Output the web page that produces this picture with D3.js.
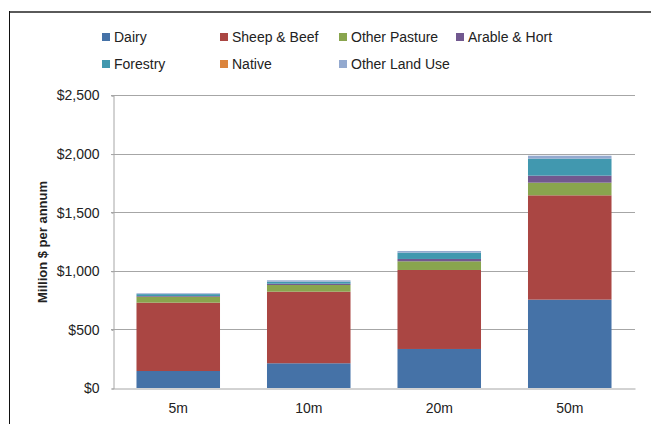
<!DOCTYPE html>
<html>
<head>
<meta charset="utf-8">
<script src="https://cdn.jsdelivr.net/npm/d3@7"></script>
<style>
  html, body { margin: 0; padding: 0; background: #fff; }
  svg { display: block; }
  text { font-family: "Liberation Sans", Arial, sans-serif; fill: #222; }
</style>
</head>
<body>
<svg id="chart" width="651" height="424"></svg>
<script>
// Distance bands
const categories = ["5m", "10m", "20m", "50m"];

// Land-use series, million $ per annum
const seriesNames = ["Dairy", "Sheep & Beef", "Other Pasture", "Arable & Hort", "Forestry", "Native", "Other Land Use"];
const dairy        = [145, 211, 333, 754];
const sheepBeef    = [583, 611, 674, 890];
const otherPasture = [51, 57, 74, 108];
const arableHort   = [6, 11, 20, 60];
const forestry     = [16, 17, 54, 145];
const native       = [0, 0, 0, 0];
const otherLandUse = [7, 12, 14, 25];

const yTicks = [0, 500, 1000, 1500, 2000, 2500];

const colors = ["#4572A7", "#AA4643", "#89A54E", "#71588F", "#4198AF", "#DB843D", "#93A9CF"];

const seriesValues = [dairy, sheepBeef, otherPasture, arableHort, forestry, native, otherLandUse];
const rows = categories.map((c, i) => {
  const r = { cat: c };
  seriesNames.forEach((s, k) => { r[s] = seriesValues[k][i]; });
  return r;
});

const svg = d3.select("#chart");
const margin = { left: 113, right: 16, top: 95, bottom: 36 };
const W = 651, H = 424;
const FONT = "'Liberation Sans', Arial, sans-serif";

// chart frame
svg.append("line").attr("x1", 9).attr("x2", W).attr("y1", 12).attr("y2", 12)
  .attr("stroke", "#5a5a5a").attr("stroke-width", 2);
svg.append("line").attr("x1", 9.5).attr("x2", 9.5).attr("y1", 11).attr("y2", H)
  .attr("stroke", "#111").attr("stroke-width", 1);

const x = d3.scaleBand().domain(categories).range([margin.left, W - margin.right]).paddingInner(0.36).paddingOuter(0.18);
const y = d3.scaleLinear().domain([0, 2500]).range([H - margin.bottom, margin.top]);

// gridlines
svg.append("g").selectAll("line").data(yTicks.slice(1)).join("line")
  .attr("x1", margin.left - 2).attr("x2", W - margin.right)
  .attr("y1", d => Math.round(y(d)) + 0.5).attr("y2", d => Math.round(y(d)) + 0.5)
  .attr("stroke", "#a6a6a6").attr("stroke-width", 1);

// y axis
const yAxis = d3.axisLeft(y).tickValues(yTicks).tickSize(2).tickPadding(12)
  .tickFormat(d => "$" + d3.format(",")(d));
const gy = svg.append("g").attr("transform", `translate(${margin.left + 0.5},0.5)`).call(yAxis);
gy.select(".domain").attr("stroke", "#a6a6a6");
gy.selectAll(".tick line").attr("stroke", "#a6a6a6");
gy.selectAll(".tick text").attr("font-size", 14).attr("fill", "#333").style("font-family", FONT);

// stacked bars
const stack = d3.stack().keys(seriesNames);
const layers = stack(rows);
svg.append("g").selectAll("g").data(layers).join("g")
  .attr("fill", (d, i) => colors[i])
  .selectAll("rect").data(d => d).join("rect")
  .attr("x", d => x(d.data.cat))
  .attr("width", x.bandwidth())
  .attr("y", d => y(d[1]))
  .attr("height", d => Math.max(0, y(d[0]) - y(d[1])));

// x axis
const xAxis = d3.axisBottom(x).tickSize(0).tickPadding(15);
const gx = svg.append("g").attr("transform", `translate(0,${Math.round(y(0)) + 0.5})`).call(xAxis);
gx.select(".domain").attr("stroke", "#a6a6a6");
gx.selectAll(".tick text").attr("font-size", 14).attr("fill", "#333").style("font-family", FONT);

// y axis title
svg.append("text")
  .attr("transform", `translate(47,242) rotate(-90)`)
  .attr("text-anchor", "middle")
  .attr("font-size", 13).attr("font-weight", "bold").attr("fill", "#111")
  .text("Million $ per annum");

// legend
const legendPos = [
  [102, 37], [220, 37], [339, 37], [456, 37],
  [102, 64], [220, 64], [339, 64]
];
const lg = svg.append("g").selectAll("g").data(seriesNames).join("g")
  .attr("transform", (d, i) => `translate(${legendPos[i][0]},${legendPos[i][1]})`);
lg.append("rect").attr("x", 0).attr("y", -4).attr("width", 8).attr("height", 8)
  .attr("fill", (d, i) => colors[i]);
lg.append("text").attr("x", 12).attr("y", 0).attr("dy", "0.35em")
  .attr("font-size", 14).attr("fill", "#222").text(d => d);
</script>
</body>
</html>
